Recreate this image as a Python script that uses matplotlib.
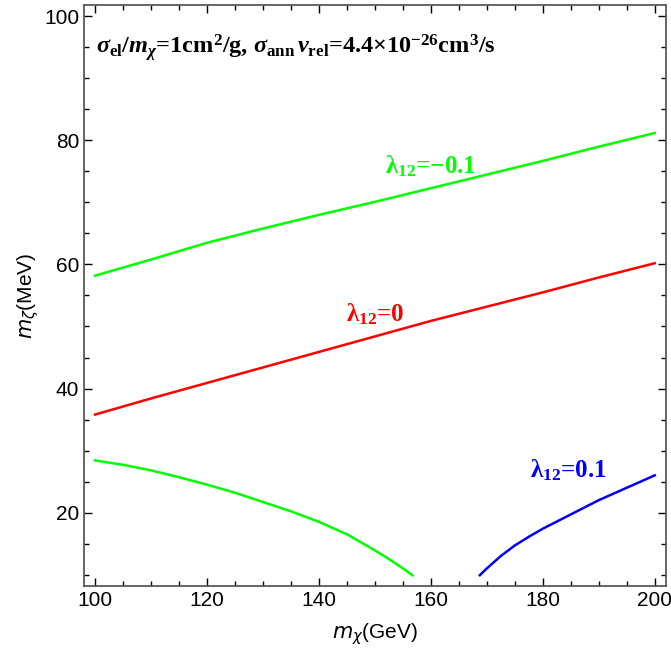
import matplotlib
matplotlib.use("Agg")
import matplotlib.pyplot as plt
from matplotlib.ticker import MultipleLocator

# curves
x_up = [100, 110, 120, 130, 140, 150, 160, 170, 180, 190, 200]
y_green_up = [58.2, 60.8, 63.5, 65.8, 68.0, 70.1, 72.3, 74.5, 76.7, 79.0, 81.2]
y_red = [35.8, 38.4, 40.9, 43.4, 45.9, 48.4, 50.9, 53.2, 55.5, 57.9, 60.2]

x_green_lo = [100, 105, 110, 115, 120, 125, 130, 135, 140, 145, 150, 152.5, 155, 156.7]
y_green_lo = [28.4, 27.7, 26.8, 25.7, 24.5, 23.2, 21.7, 20.2, 18.5, 16.5, 13.9, 12.5, 11.0, 9.9]

x_blue = [168.75, 170, 172.5, 175, 177.5, 180, 185, 190, 195, 200]
y_blue = [9.9, 11.0, 13.0, 14.7, 16.1, 17.4, 19.7, 22.0, 24.0, 26.0]

plt.rcParams['font.family'] = ['Liberation Sans', 'DejaVu Sans']
plt.rcParams['mathtext.fontset'] = 'custom'
plt.rcParams['mathtext.rm'] = 'Liberation Serif:bold'
plt.rcParams['mathtext.it'] = 'Liberation Serif:italic:bold'
plt.rcParams['mathtext.bf'] = 'Liberation Serif:bold'

fig = plt.figure(figsize=(6.71, 6.53), dpi=100)
ax = fig.add_axes([0.125, 0.103, 0.8675, 0.889])

lw = 1.8
ax.plot(x_up, y_green_up, color='#00ff00', lw=lw)
ax.plot(x_up, y_red, color='#ff0000', lw=lw)
ax.plot(x_green_lo, y_green_lo, color='#00ff00', lw=lw)
ax.plot(x_blue, y_blue, color='#0000ff', lw=lw)

ax.set_xlim(98, 202)
ax.set_ylim(8.2, 101.8)
ax.xaxis.set_major_locator(MultipleLocator(20))
ax.xaxis.set_minor_locator(MultipleLocator(5))
ax.yaxis.set_major_locator(MultipleLocator(20))
ax.yaxis.set_minor_locator(MultipleLocator(5))
ax.tick_params(which='both', direction='in', top=True, right=True, labelsize=15, color='black')
ax.tick_params(which='major', length=6, width=1)
ax.tick_params(which='minor', length=3.5, width=1)
for s in ax.spines.values():
    s.set_color('0.35')
    s.set_linewidth(1.3)

ax.set_xlabel(r'$m_{\chi}$(GeV)', fontsize=15, math_fontfamily='dejavusans', labelpad=8)
ax.set_ylabel(r'$m_{\zeta}$(MeV)', fontsize=15, math_fontfamily='dejavusans', labelpad=2)

serif = dict(family='Liberation Serif', weight='bold')
ax.text(0.02, 0.928,
        r'$\sigma_{\rm el}/m_{\chi}$=1cm$^{2}$/g, $\sigma_{\rm ann}\,v_{\rm rel}$=4.4×10$^{-26}$cm$^{3}$/s',
        transform=ax.transAxes, fontsize=17.5, color='black', ha='left', va='center', **serif)

ax.text(160, 75.8, r'λ$_{\rm 12}$=−0.1', color='#00ff00', fontsize=18, ha='center', va='center', **serif)
ax.text(150, 52.0, r'λ$_{\rm 12}$=0', color='#ff0000', fontsize=18, ha='center', va='center', **serif)
ax.text(184.5, 26.9, r'λ$_{\rm 12}$=0.1', color='#0000ff', fontsize=18, ha='center', va='center', **serif)

fig.savefig('out.png', dpi=100)
